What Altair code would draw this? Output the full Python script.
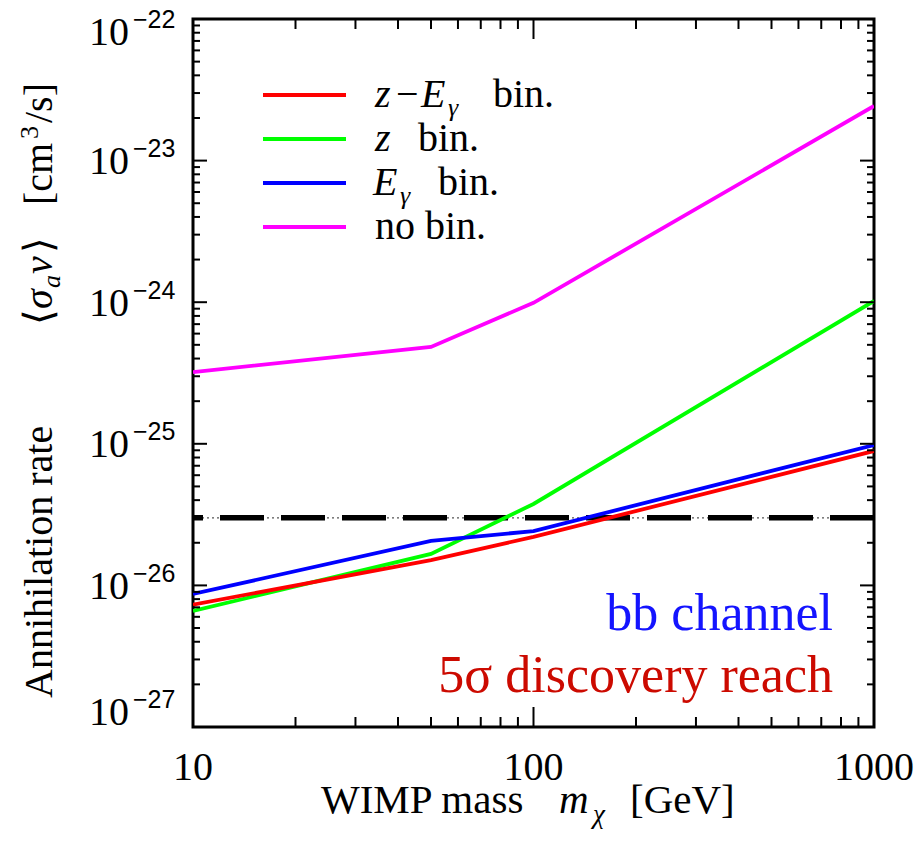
import altair as alt
import pandas as pd

# WIMP masses (GeV) at which the reach was computed
masses = [10, 50, 100, 1000]

# 5-sigma discovery reach in <sigma v> (cm^3/s) for each binning scheme
sv_zE = [7.3e-27, 1.51e-26, 2.2e-26, 8.9e-26]
sv_z = [6.6e-27, 1.67e-26, 3.76e-26, 1.02e-24]
sv_E = [8.7e-27, 2.06e-26, 2.42e-26, 9.8e-26]
sv_none = [3.21e-25, 4.83e-25, 9.9e-25, 2.43e-23]

series_keys = ["zE", "z", "E", "none"]
series_colors = {"zE": "#ff0000", "z": "#00ff00", "E": "#0000ff", "none": "#ff00ff"}
series_values = {"zE": sv_zE, "z": sv_z, "E": sv_E, "none": sv_none}

# thermal relic cross section
thermal_rate = 3e-26

x_tick_labels = ["10", "100", "1000"]
y_exponents = [-22, -23, -24, -25, -26, -27]

W, H = 681, 708
SERIF = "Liberation Serif"
SANS = "Liberation Sans"

xs = alt.Scale(type="log", domain=[10, 1000])
ys = alt.Scale(type="log", domain=[1e-27, 1e-22])


def xenc(field):
    return alt.X(field, scale=xs, axis=None)


def yenc(field):
    return alt.Y(field, scale=ys, axis=None)


def text_at(text, x, y, size, font=SERIF, style="normal", align="left",
            baseline="alphabetic", color="black", angle=0):
    return alt.Chart(pd.DataFrame({"t": [text]})).mark_text(
        align=align, baseline=baseline, fontSize=size, font=font,
        fontStyle=style, color=color, angle=angle,
    ).encode(x=alt.value(x), y=alt.value(y), text="t:N")


layers = []

# thermal relic reference: thick dashes over a thin dotted line
thermal_df = pd.DataFrame({"sv": [thermal_rate]})
layers.append(alt.Chart(thermal_df).mark_rule(
    color="#555555", strokeWidth=1.3, strokeDash=[2, 3]).encode(y=yenc("sv:Q")))
layers.append(alt.Chart(thermal_df).mark_rule(
    color="black", strokeWidth=5.5, strokeDash=[44, 17]).encode(y=yenc("sv:Q")))

# reach curves
for key in ["none", "z", "E", "zE"]:
    df = pd.DataFrame({"mass": masses, "sv": series_values[key]})
    layers.append(alt.Chart(df).mark_line(
        color=series_colors[key], strokeWidth=3.8, clip=True,
    ).encode(x=xenc("mass:Q"), y=yenc("sv:Q")))

# tick marks drawn inward on all four sides
x_major = [10, 100, 1000]
x_minor = [k * 10 ** d for d in (1, 2) for k in range(2, 10)]
y_major = [10.0 ** e for e in y_exponents]
y_minor = [k * 10.0 ** e for e in range(-27, -22) for k in range(2, 10)]

for vals, length in ((x_major, 20), (x_minor, 10)):
    df = pd.DataFrame({"v": vals})
    layers.append(alt.Chart(df).mark_rule(color="black", strokeWidth=2).encode(
        x=xenc("v:Q"), y=alt.value(H), y2=alt.value(H - length)))
    layers.append(alt.Chart(df).mark_rule(color="black", strokeWidth=2).encode(
        x=xenc("v:Q"), y=alt.value(0), y2=alt.value(length)))
for vals, length in ((y_major, 14), (y_minor, 7)):
    df = pd.DataFrame({"v": vals})
    layers.append(alt.Chart(df).mark_rule(color="black", strokeWidth=2).encode(
        y=yenc("v:Q"), x=alt.value(0), x2=alt.value(length)))
    layers.append(alt.Chart(df).mark_rule(color="black", strokeWidth=2).encode(
        y=yenc("v:Q"), x=alt.value(W), x2=alt.value(W - length)))

# x tick labels
xl_df = pd.DataFrame({"v": [float(s) for s in x_tick_labels], "lab": x_tick_labels})
layers.append(alt.Chart(xl_df).mark_text(
    align="center", baseline="middle", fontSize=40, font=SERIF, dy=41,
).encode(x=xenc("v:Q"), y=alt.value(H), text="lab:N"))

# y tick labels: "10" with a raised exponent; end labels kept inside the frame
yl_df = pd.DataFrame({
    "v": [10.0 ** e for e in y_exponents],
    "base": ["10"] * len(y_exponents),
    "exp": ["\u2212" + str(-e) for e in y_exponents],
    "e": y_exponents,
})
for sel, shift in (("datum.e == -22", 14), ("datum.e == -27", -14),
                   ("datum.e < -22 && datum.e > -27", 1.5)):
    sub = alt.Chart(yl_df).transform_filter(sel)
    layers.append(sub.mark_text(
        align="right", baseline="middle", fontSize=40, font=SERIF, dy=shift,
    ).encode(x=alt.value(-64), y=yenc("v:Q"), text="base:N"))
    layers.append(sub.mark_text(
        align="left", baseline="middle", fontSize=25, font=SANS, dy=shift - 13,
    ).encode(x=alt.value(-60), y=yenc("v:Q"), text="exp:N"))

# legend
leg_y = [76, 120, 164, 208]
for i, key in enumerate(series_keys):
    layers.append(alt.Chart(pd.DataFrame({"k": [key]})).mark_rule(
        color=series_colors[key], strokeWidth=3.8,
    ).encode(x=alt.value(70), x2=alt.value(153), y=alt.value(leg_y[i])))

LS = 40
base = 12
layers += [
    text_at("z", 182, leg_y[0] + base, LS, SERIF, "italic"),
    text_at("\u2212", 203, leg_y[0] + base, LS, SERIF),
    text_at("E", 228, leg_y[0] + base, LS, SERIF, "italic"),
    text_at("\u03b3", 255, leg_y[0] + base + 9, 26, SERIF, "italic"),
    text_at("bin.", 300, leg_y[0] + base, LS, SERIF),
    text_at("z", 182, leg_y[1] + base, LS, SERIF, "italic"),
    text_at("bin.", 225, leg_y[1] + base, LS, SERIF),
    text_at("E", 180, leg_y[2] + base, LS, SERIF, "italic"),
    text_at("\u03b3", 207, leg_y[2] + base + 9, 26, SERIF, "italic"),
    text_at("bin.", 245, leg_y[2] + base, LS, SERIF),
    text_at("no  bin.", 182, leg_y[3] + base, LS, SERIF),
]

# annotations
layers.append(text_at("bb channel", 640, 611, 52, SERIF, color="#1414ff", align="right"))
layers.append(text_at("5\u03c3 discovery reach", 640, 673, 52, SERIF, color="#cc0a00", align="right"))

# x axis title
layers += [
    text_at("WIMP mass", 128, 794, 41, SERIF),
    text_at("m", 366, 794, 41, SERIF, "italic"),
    text_at("\u03c7", 400, 804, 27, SERIF, "italic"),
    text_at("[GeV]", 437, 794, 41, SERIF),
]

# y axis title, built from rotated pieces reading bottom to top
TX = -141   # baseline column of the rotated title
TS = 40
layers += [
    text_at("Annihilation  rate", TX, 679, TS, SERIF, angle=270),
    text_at("\u27e8", TX, 306, TS, SERIF, angle=270),
    text_at("\u03c3", TX, 290, TS, SERIF, "italic", angle=270),
    text_at("a", TX + 8, 269, 26, SERIF, "italic", angle=270),
    text_at("v", TX, 255, TS, SERIF, "italic", angle=270),
    text_at("\u27e9", TX, 234, TS, SERIF, angle=270),
    text_at("[cm", TX, 186, TS, SERIF, angle=270),
    text_at("3", TX - 14, 120, 26, SERIF, angle=270),
    text_at("/s]", TX, 104, TS, SERIF, angle=270),
]

chart = alt.layer(*layers).properties(
    width=W,
    height=H,
    autosize="none",
    padding={"left": 193, "top": 19, "right": 48, "bottom": 120},
).configure_view(stroke="black", strokeWidth=3)

chart.save("out.html", embed_options={"renderer": "svg", "actions": False})
